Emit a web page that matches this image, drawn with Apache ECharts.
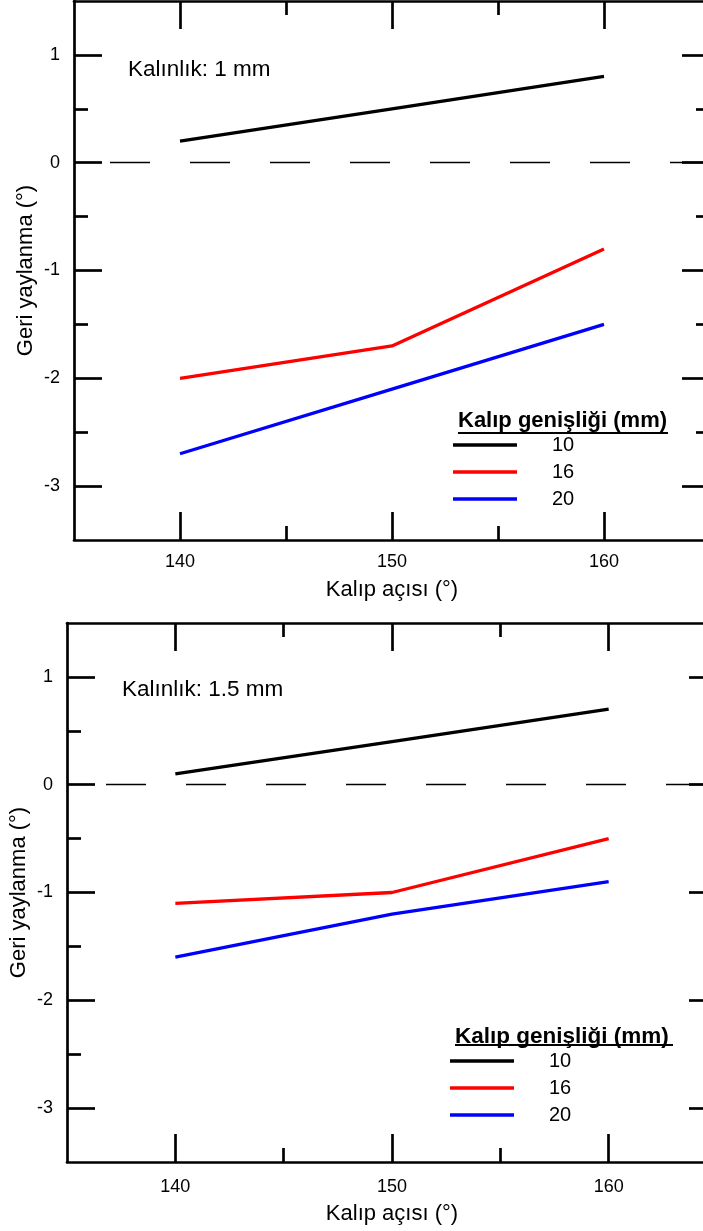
<!DOCTYPE html>
<html>
<head>
<meta charset="utf-8">
<script src="https://cdn.jsdelivr.net/npm/echarts@6/dist/echarts.min.js"></script>
<style>
html, body { margin: 0; padding: 0; background: #fff; }
#main { width: 703px; height: 1231px; }
</style>
</head>
<body>
<div id="main"></div>
<script>
// data
var angles = [140, 150, 160];
var xMinor = [145, 155];
var yMajor = [-3, -2, -1, 0, 1];
var yMinor = [-2.5, -1.5, -0.5, 0.5];
var widths = ['10', '16', '20'];
var colors = ['#000000', '#ff0000', '#0000ff'];

// Kalınlık: 1 mm
var t1w10 = [0.2, 0.5, 0.8];
var t1w16 = [-2.0, -1.7, -0.8];
var t1w20 = [-2.7, -2.1, -1.5];
// Kalınlık: 1.5 mm
var t15w10 = [0.1, 0.4, 0.7];
var t15w16 = [-1.1, -1.0, -0.5];
var t15w20 = [-1.6, -1.2, -0.9];

var font = '"Liberation Sans", Arial, sans-serif';
var ink = '#000';

function axis(g, dim, pos, ticks, len, opt) {
  opt = opt || {};
  var a = {
    type: 'value',
    gridIndex: g,
    min: dim == 'x' ? 135 : -3.5,
    max: dim == 'x' ? 165 : 1.5,
    position: pos,
    axisLine: { show: !!opt.line, onZero: false, lineStyle: { color: ink, width: 2.7 } },
    axisTick: { show: true, inside: true, length: len, customValues: ticks, lineStyle: { color: ink, width: 2.7 } },
    axisLabel: { show: false },
    splitLine: { show: false }
  };
  if (opt.labels) {
    a.axisLabel = { show: true, customValues: opt.labels, color: ink, fontSize: 18, fontFamily: font, margin: opt.margin };
  }
  if (opt.name) {
    a.name = opt.name;
    a.nameLocation = 'middle';
    a.nameGap = opt.nameGap;
    a.nameMoveOverlap = false;
    a.nameTextStyle = { color: ink, fontSize: opt.nameSize, fontFamily: font };
    if (dim == 'y') a.nameRotate = 90;
  }
  return a;
}

var xAxis = [], yAxis = [];
[0, 1].forEach(function (g) {
  var xGap = g == 0 ? 39 : 41;
  xAxis.push(axis(g, 'x', 'bottom', angles, 28, { line: true, labels: angles, margin: g == 0 ? 13 : 16, name: 'Kalıp açısı (°)', nameGap: xGap, nameSize: 22 }));
  xAxis.push(axis(g, 'x', 'bottom', xMinor, 14));
  xAxis.push(axis(g, 'x', 'top', angles, 28, { line: true }));
  xAxis.push(axis(g, 'x', 'top', xMinor, 14));
  yAxis.push(axis(g, 'y', 'left', yMajor, 28, { line: true, labels: yMajor, margin: 14, name: 'Geri yaylanma (°)', nameGap: 37, nameSize: 22 }));
  yAxis.push(axis(g, 'y', 'left', yMinor, 14));
  yAxis.push(axis(g, 'y', 'right', yMajor, 28, { line: true }));
  yAxis.push(axis(g, 'y', 'right', yMinor, 14));
});

function pairs(vals) {
  return angles.map(function (a, i) { return [a, vals[i]]; });
}

var panels = [[t1w10, t1w16, t1w20], [t15w10, t15w16, t15w20]];
var dashOffsets = [44, 41];
var series = [];
panels.forEach(function (sets, g) {
  sets.forEach(function (vals, k) {
    var s = {
      name: widths[k],
      type: 'line',
      xAxisIndex: g * 4,
      yAxisIndex: g * 4,
      data: pairs(vals),
      showSymbol: false,
      symbol: 'none',
      color: colors[k],
      lineStyle: { color: colors[k], width: 3.3 },
      animation: false,
      z: 3
    };
    if (k == 0) {
      s.markLine = {
        silent: true,
        symbol: 'none',
        label: { show: false },
        lineStyle: { color: ink, width: 1.3, type: [40, 40], dashOffset: dashOffsets[g] },
        data: [{ yAxis: 0 }],
        animation: false
      };
    }
    series.push(s);
  });
});

var legendBase = {
  data: widths,
  orient: 'vertical',
  icon: 'rect',
  itemWidth: 64,
  itemHeight: 3.5,
  itemGap: 1,
  padding: 0,
  selectedMode: false,
  textStyle: { color: ink, fontSize: 20, fontFamily: font, lineHeight: 26, padding: [0, 0, 0, 30] }
};

var myChart = echarts.init(document.getElementById('main'));
var option = {
  backgroundColor: '#fff',
  animation: false,
  grid: [
    { left: 74, top: 1, right: -7, height: 539, outerBoundsMode: 'none', containLabel: false },
    { left: 67, top: 623, right: -14, height: 539, outerBoundsMode: 'none', containLabel: false }
  ],
  xAxis: xAxis,
  yAxis: yAxis,
  legend: [
    Object.assign({}, legendBase, { left: 453, top: 432 }),
    Object.assign({}, legendBase, { left: 450, top: 1048 })
  ],
  graphic: [
    { type: 'text', x: 128, y: 70, style: { text: 'Kalınlık: 1 mm', font: '22.5px ' + font, fill: ink, verticalAlign: 'middle' } },
    { type: 'text', x: 122, y: 690, style: { text: 'Kalınlık: 1.5 mm', font: '22.5px ' + font, fill: ink, verticalAlign: 'middle' } },
    { type: 'text', x: 458, y: 421, style: { text: 'Kalıp genişliği (mm)', font: 'bold 22px ' + font, fill: ink, verticalAlign: 'middle' } },
    { type: 'line', shape: { x1: 458, y1: 433, x2: 668, y2: 433 }, style: { stroke: ink, lineWidth: 2 } },
    { type: 'text', x: 455, y: 1037, style: { text: 'Kalıp genişliği (mm)', font: 'bold 22.5px ' + font, fill: ink, verticalAlign: 'middle' } },
    { type: 'line', shape: { x1: 455, y1: 1045, x2: 673, y2: 1045 }, style: { stroke: ink, lineWidth: 2 } }
  ],
  series: series
};
myChart.setOption(option);
</script>
</body>
</html>
